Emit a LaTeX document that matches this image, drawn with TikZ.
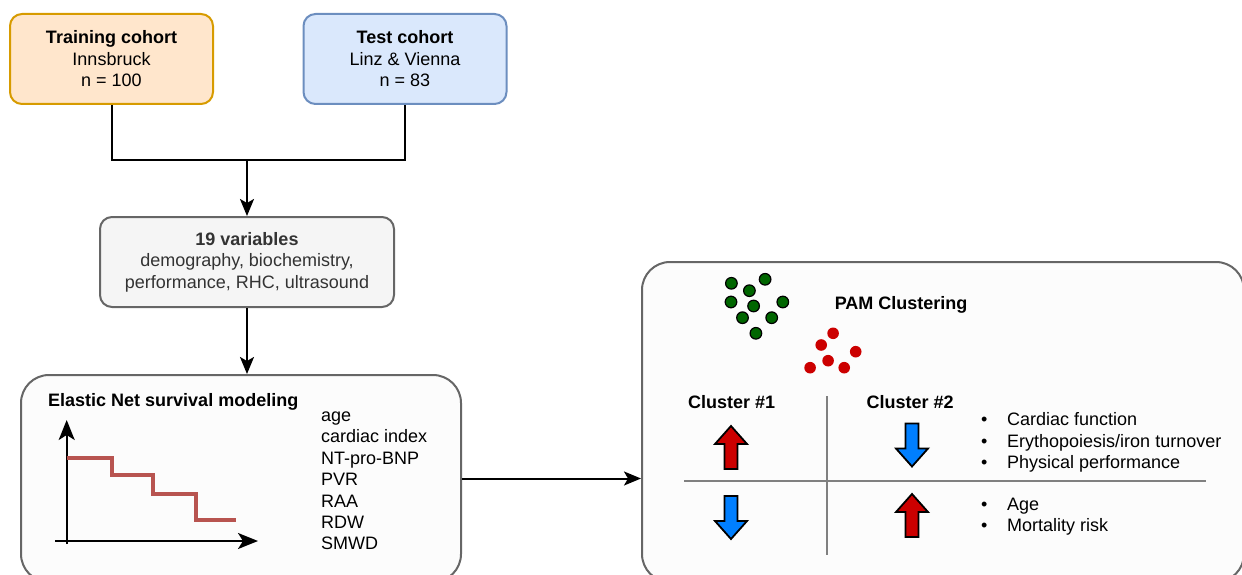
\documentclass[tikz,border=0pt]{standalone}
\usepackage{fontspec}
\setmainfont{Liberation Sans}
\usetikzlibrary{arrows.meta,positioning}

\definecolor{trainfill}{HTML}{FFE6CC}
\definecolor{trainline}{HTML}{D79B00}
\definecolor{testfill}{HTML}{DAE8FC}
\definecolor{testline}{HTML}{6C8EBF}
\definecolor{varfill}{HTML}{F5F5F5}
\definecolor{boxline}{HTML}{666666}
\definecolor{vartext}{HTML}{333333}
\definecolor{panelfill}{HTML}{FCFCFC}
\definecolor{kmred}{HTML}{B85450}
\definecolor{dotgreen}{HTML}{006600}
\definecolor{dotred}{HTML}{CC0000}
\definecolor{fatred}{HTML}{CC0000}
\definecolor{fatblue}{HTML}{007FFF}
\definecolor{divgray}{HTML}{808080}

\tikzset{
  fatup/.pic={\draw[line width=1.8pt, line join=miter, pic actions]
    (-6.5,21.5) -- (-6.5,-3.5) -- (-16,-3.5) -- (0,-21.5) -- (16,-3.5) -- (6.5,-3.5) -- (6.5,21.5) -- cycle;},
  fatdown/.pic={\draw[line width=1.8pt, line join=miter, pic actions]
    (-6.5,-21.5) -- (-6.5,3.5) -- (-16,3.5) -- (0,21.5) -- (16,3.5) -- (6.5,3.5) -- (6.5,-21.5) -- cycle;},
}

\begin{document}
\begin{tikzpicture}[x=1pt, y=-1pt,
    cohort/.style={draw, rounded corners=12pt, line width=2pt, minimum width=203pt, minimum height=90pt,
      align=center, inner sep=0pt, font=\fontsize{18}{21.5}\selectfont},
    panel/.style={draw=boxline, fill=panelfill, rounded corners=28pt, line width=2pt, inner sep=0pt},
    arr/.style={-{Stealth[length=17pt, width=14pt, inset=4pt]}, line width=2pt},
    axis/.style={-{Stealth[length=20pt, width=16pt, inset=5pt]}, line width=2pt},
    txt/.style={font=\fontsize{18}{21.5}\selectfont, inner sep=0pt, anchor=base west},
    ttl/.style={txt, font=\fontsize{18}{21.5}\selectfont\bfseries},
    divider/.style={draw=divgray, line width=2pt},
  ]
  \useasboundingbox (0,0) rectangle (1242,575);
  \clip (0,0) rectangle (1242,575);

  % Cohorts
  \node[cohort, fill=trainfill, draw=trainline] (train) at (111.5,59) {\textbf{Training cohort}\\Innsbruck\\n = 100};
  \node[cohort, fill=testfill, draw=testline] (test) at (405,59) {\textbf{Test cohort}\\Linz \& Vienna\\n = 83};

  % Variables
  \node[cohort, fill=varfill, draw=boxline, text=vartext, minimum width=294pt] (vars) at (247,262)
    {\textbf{19 variables}\\demography, biochemistry,\\performance, RHC, ultrasound};

  % Merge of both cohorts
  \coordinate (merge) at (247,160);
  \draw[line width=2pt] (train.south) |- (merge) -| (test.south);
  \draw[arr] (merge) -- (vars.north);

  % Elastic Net panel
  \node[panel, minimum width=440pt, minimum height=207pt] (enet) at (241,478.5) {};
  \draw[arr] (vars.south) -- (vars.south |- enet.north);
  \node[ttl] (enettl) at (48,406) {Elastic Net survival modeling};
  \foreach \v [count=\i] in {age, cardiac index, NT-pro-BNP, PVR, RAA, RDW, SMWD}
    \node[txt] (var\i) at (321,421.5+21.4*\i-21.4) {\v};

  % Survival curve
  \coordinate (yax0) at (66.7,544);
  \coordinate (yax1) at (66.7,420);
  \coordinate (xax0) at (55,541);
  \coordinate (xax1) at (258,541);
  \draw[axis] (yax0) -- (yax1);
  \draw[axis] (xax0) -- (xax1);
  \draw[kmred, line width=3.8pt] (66.7,458.3) -- (111.7,458.3) -- (111.7,475) -- (152.7,475)
    -- (152.7,494.3) -- (195.7,494.3) -- (195.7,520) -- (235.7,520);

  % PAM clustering panel
  \node[panel, minimum width=602pt, minimum height=320pt] (pam) at (943,422) {};
  \draw[arr] (enet.east) -- (enet.east -| pam.west);
  \node[ttl] (pamttl) at (834.6,309.3) {PAM Clustering};
  \foreach \p in {(731.4,283.3), (749.4,290.7), (765.1,279.3), (731,302), (753.6,306),
                  (782.8,302), (742.5,317.7), (771.7,317.7), (755.9,333.3)}
    \draw[fill=dotgreen, line width=1.2pt] \p circle (5.8);
  \foreach \p in {(833.1,333.3), (821.2,345), (855.7,351.7), (828.1,360.7), (810.1,367.7), (844.2,367.7)}
    \fill[dotred] \p circle (5.8);

  % Cluster table
  \node[ttl] (cl1) at (688,408.3) {Cluster \#1};
  \node[ttl] (cl2) at (866.5,408.3) {Cluster \#2};
  \coordinate (vtop) at (827,396);
  \coordinate (vbot) at (827,555);
  \coordinate (hleft) at (684,481);
  \coordinate (hright) at (1206,481);
  \draw[divider] (vtop) -- (vbot);
  \draw[divider] (hleft) -- (hright);

  \pic[fill=fatred] at (731,447.5) {fatup};
  \pic[fill=fatblue] at (912,445) {fatdown};
  \pic[fill=fatblue] at (731,517.5) {fatdown};
  \pic[fill=fatred] at (912,515.5) {fatup};

  \foreach \t [count=\i] in {Cardiac function, Erythopoiesis/iron turnover, Physical performance}
    \node[txt] (up\i) at (981,425.7+21.3*\i-21.3) {\makebox[26pt][l]{\textbullet}\t};
  \foreach \t [count=\i] in {Age, Mortality risk}
    \node[txt] (lo\i) at (981,510+21.7*\i-21.7) {\makebox[26pt][l]{\textbullet}\t};
\end{tikzpicture}
\end{document}
